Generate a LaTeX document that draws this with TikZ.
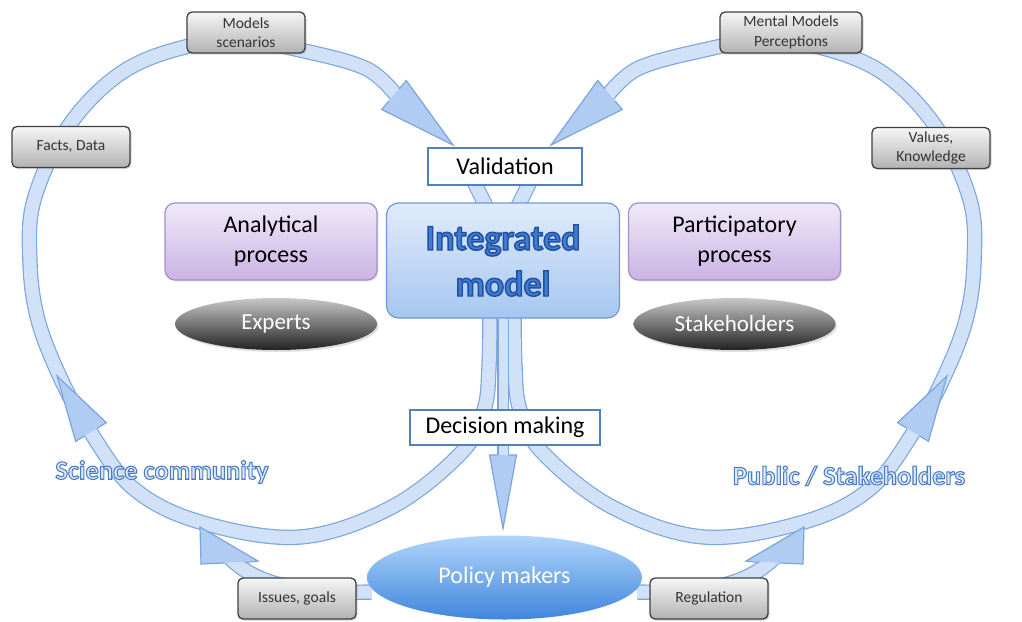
\documentclass[tikz,border=0pt]{standalone}
\usepackage{fontspec}
\setmainfont{Carlito}
\newfontfamily\outlfont{Carlito}[BoldFeatures={FakeBold=4}]
\usetikzlibrary{shapes.geometric,shadows,calc}
\pgfdeclarelayer{background}
\pgfsetlayers{background,main}

\definecolor{bandb}{HTML}{7BA5DD}
\definecolor{bandf}{HTML}{D0E1F8}
\definecolor{headf}{HTML}{B0CCF2}
\definecolor{boxtop}{HTML}{F6F6F6}
\definecolor{boxbot}{HTML}{B2B2B2}
\definecolor{boxb}{HTML}{404040}
\definecolor{boxt}{HTML}{333333}
\definecolor{whiteb}{HTML}{4F81BD}
\definecolor{integtop}{HTML}{E0ECFC}
\definecolor{integbot}{HTML}{A6C6F0}
\definecolor{integb}{HTML}{6D9AD6}
\definecolor{integt}{HTML}{3F7DD2}
\definecolor{proctop}{HTML}{F0EAF8}
\definecolor{procbot}{HTML}{C9B3E4}
\definecolor{procb}{HTML}{A58FC8}
\definecolor{elltop}{HTML}{C8C8C8}
\definecolor{ellmid}{HTML}{707070}
\definecolor{ellbot}{HTML}{222222}
\definecolor{poltop}{HTML}{B0D5FB}
\definecolor{polmid}{HTML}{72AAEE}
\definecolor{polbot}{HTML}{3F86DC}
\definecolor{lblf}{HTML}{DCE8F7}

% outlined text: fill in current colour, stroke in the given rgb
\newcommand\outl[2]{{\special{pdf:literal direct #1 RG}#2}}

\newcommand\bandhead[4]{%
  \fill[headf] ($(#1)!#3!90:(#2)$) -- (#2) -- ($(#1)!#3!-90:(#2)$) -- cycle;
  \draw[headline] ($(#1)!#4!90:(#2)$) -- ($(#1)!#3!90:(#2)$) -- (#2) -- ($(#1)!#3!-90:(#2)$) -- ($(#1)!#4!-90:(#2)$);
}
\newcommand\halfring{%
  \draw[band] plot[smooth, tension=0.6] coordinates {(490,300) (489,367) (484,410) (462,452) (392,507) (300,537) (200,522) (133,488) (88,428) (60,377) (38,320) (30,263) (34,200) (68,127) (121,73) (185,47) (245,41) (300,50) (367,69) (400,100)};
  \draw[band] (462,158) -- (486,206);
  \bandhead{394,95}{453,145}{19pt}{7.7pt}
  \bandhead{91,432}{57,376}{18pt}{7.7pt}
}

\tikzset{
  band/.style={draw=bandb, line width=1.2pt, double=bandf, double distance=13pt},
  headline/.style={draw=bandb, line width=1.2pt, line join=miter},
  smallbox/.style={draw=boxb, line width=1.3pt, rounded corners=5pt, top color=boxtop, bottom color=boxbot,
    minimum width=118pt, minimum height=41pt, align=center, inner sep=1pt, text=boxt,
    font=\fontsize{15.5}{19.5}\selectfont,
    drop shadow={shadow xshift=1.5pt, shadow yshift=-1.5pt, opacity=0.3}},
  whitebox/.style={draw=whiteb, line width=2pt, fill=white, align=center, inner sep=1pt, text=black,
    font=\fontsize{24}{28}\selectfont},
  integbox/.style={draw=integb, line width=1.2pt, rounded corners=12pt, top color=integtop, bottom color=integbot,
    minimum width=233pt, minimum height=115pt, align=center, text=integt,
    font=\outlfont\fontsize{36}{46}\selectfont\bfseries},
  procbox/.style={draw=procb, line width=1.2pt, rounded corners=10pt, top color=proctop, bottom color=procbot,
    minimum width=212pt, minimum height=77pt, align=center, text=black,
    font=\fontsize{24}{30}\selectfont,
    drop shadow={shadow xshift=1.5pt, shadow yshift=-1.5pt, opacity=0.2}},
  grayell/.style={ellipse, inner sep=0pt, minimum width=202pt, minimum height=52pt,
    top color=elltop, middle color=ellmid, bottom color=ellbot, text=white,
    font=\fontsize{23}{27}\selectfont,
    drop shadow={shadow xshift=1.5pt, shadow yshift=-2pt, opacity=0.25}},
  policyell/.style={ellipse, inner sep=0pt, minimum width=275pt, minimum height=84pt,
    top color=poltop, middle color=polmid, bottom color=polbot, text=white,
    font=\fontsize{24}{28}\selectfont},
  outlbl/.style={text=lblf, inner sep=0pt, font=\outlfont\fontsize{26.5}{30}\selectfont\bfseries}
}

\begin{document}
\begin{tikzpicture}[x=1pt,y=-1pt]
\useasboundingbox (0,0) rectangle (1022,621);

% nodes
\node[smallbox] (models) at (246,32.5) {Models\\scenarios};
\node[smallbox] (facts) at (71,147) {Facts, Data};
\node[smallbox, minimum width=142pt] (mental) at (791,32.5) {Mental Models\\Perceptions};
\node[smallbox] (values) at (931,148) {Values,\\Knowledge};
\node[smallbox] (issues) at (297,598.5) {Issues, goals};
\node[smallbox] (regul) at (709,598.5) {Regulation};

\node[whitebox, minimum width=154pt, minimum height=37pt] (valid) at (505,166.5) {Validation};
\node[whitebox, minimum width=190pt, minimum height=35pt] (decis) at (505,427.5) {Decision making};

\node[integbox] (integ) at (503,260.5) {\outl{0.12 0.31 0.62}{Integrated}\\\outl{0.12 0.31 0.62}{model}};
\node[procbox] (anal) at (271,241.5) {Analytical\\process};
\node[procbox] (partic) at (734.5,241.5) {Participatory\\process};
\node[grayell] (experts) at (276,324) {Experts};
\node[grayell] (stake) at (734.5,324) {Stakeholders};
\node[policyell] (policy) at (504.5,577.5) {Policy makers};

\node[outlbl] (sci) at (162,472) {\outl{0.29 0.49 0.75}{Science community}};
\node[outlbl] (pub) at (849,476) {\outl{0.29 0.49 0.75}{Public / Stakeholders}};

\begin{pgfonlayer}{background}
  % left and right rings
  \halfring
  \begin{scope}[shift={(1004,0)}, xscale=-1]
    \halfring
  \end{scope}
  % central arrow: integrated model -> policy makers
  \coordinate (ctip) at ($(policy.north)+(-1.5,-7)$);
  \draw[band, double distance=9pt] (integ.south) -- (503,459);
  \bandhead{503,455}{ctip}{13.5pt}{5.7pt}
  % policy makers -> issues, goals -> ring
  \draw[band] ($(policy.west)+(5,14.5)$) .. controls (300,594) and (255,585) .. (228,556);
  \fill[headf] (201,564) -- (200,527) -- (258,561) -- cycle;
  \draw[headline] (224,563) -- (201,564) -- (200,527) -- (258,561) -- (245,562.5);
  % policy makers -> regulation -> ring
  \draw[band] ($(policy.east)+(-5,14.5)$) .. controls (704,594) and (749,585) .. (776,556);
  \fill[headf] (803,564) -- (804,527) -- (746,561) -- cycle;
  \draw[headline] (780,563) -- (803,564) -- (804,527) -- (746,561) -- (759,562.5);
\end{pgfonlayer}
\end{tikzpicture}
\end{document}
